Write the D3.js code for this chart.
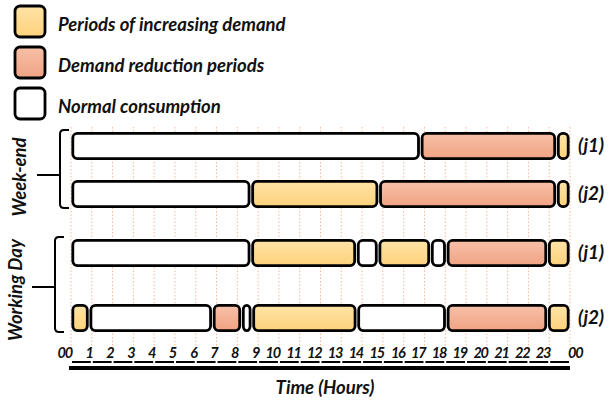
<!DOCTYPE html>
<html>
<head>
<meta charset="utf-8">
<script src="https://cdn.jsdelivr.net/npm/d3@7"></script>
<style>
  body { margin: 0; background: #fff; }
  svg { display: block; }
  text { font-family: Lato, "Open Sans", sans-serif; font-weight: bold; font-style: italic; fill: #111; }
</style>
</head>
<body>
<svg></svg>
<script>
// hour ticks along the time axis
const hours = d3.range(0, 25);
const tickLabels = ["00","1","2","3","4","5","6","7","8","9","10","11","12","13","14","15","16","17","18","19","20","21","22","23","00"];

// rows: group, label, segment boundaries (hours) and the kind of each segment
const rowIds = ["we1", "we2", "wd1", "wd2"];
const rowLabels = ["(j1)", "(j2)", "(j1)", "(j2)"];
const rowGroups = ["Week-end", "Week-end", "Working Day", "Working Day"];
const groups = ["Week-end", "Working Day"];
const rowBreaks = [
  [0, 16.8, 23.35, 24],
  [0, 8.65, 14.8, 23.35, 24],
  [0, 8.65, 13.73, 14.77, 17.29, 18.05, 22.92, 24],
  [0, 0.87, 6.8, 8.2, 8.7, 13.75, 18.05, 22.92, 24]
];
const rowKinds = [
  ["N", "R", "I"],
  ["N", "I", "R", "I"],
  ["N", "I", "N", "I", "N", "R", "I"],
  ["I", "N", "R", "N", "I", "N", "R", "I"]
];

const legendKinds = ["I", "R", "N"];
const legendLabels = ["Periods of increasing demand", "Demand reduction periods", "Normal consumption"];

const W = 612, H = 405;
const svg = d3.select('svg').attr('width', W).attr('height', H);

const defs = svg.append('defs');
const grad = (id, c1, c2) => {
  const g = defs.append('linearGradient').attr('id', id)
    .attr('x1', 0).attr('y1', 0).attr('x2', 0).attr('y2', 1);
  g.append('stop').attr('offset', '0%').attr('stop-color', c1);
  g.append('stop').attr('offset', '100%').attr('stop-color', c2);
};
grad('gI', '#ffe3a6', '#fdd27c');
grad('gR', '#f7c0a8', '#f0a383');
const fillOf = k => k === 'I' ? 'url(#gI)' : k === 'R' ? 'url(#gR)' : '#fff';

const x = d3.scaleLinear().domain([0, 24]).range([71, 570]);
const y = d3.scaleOrdinal().domain(rowIds).range([132, 180, 239, 304]);
const barH = 28;
const sw = 2.8;

// dotted hour guides
svg.append('g').selectAll('line').data(hours).enter().append('line')
  .attr('x1', d => x(d)).attr('x2', d => x(d))
  .attr('y1', 127).attr('y2', 352)
  .attr('stroke', '#f5b998').attr('stroke-width', 1)
  .attr('stroke-dasharray', '1.5,2');

// segments
const rows = svg.append('g');
rowIds.forEach((id, i) => {
  const segs = rowKinds[i].map((k, j) => ({ k, a: rowBreaks[i][j], b: rowBreaks[i][j + 1] }));
  rows.append('g').selectAll('rect').data(segs).enter().append('rect')
    .attr('x', d => x(d.a) + sw / 2 + 0.4)
    .attr('y', y(id) + sw / 2)
    .attr('width', d => x(d.b) - x(d.a) - sw - 0.8)
    .attr('height', barH - sw)
    .attr('rx', 4.5)
    .attr('fill', d => fillOf(d.k))
    .attr('stroke', '#000').attr('stroke-width', sw);
  rows.append('text').text(rowLabels[i])
    .attr('x', 578).attr('y', y(id) + barH / 2 + 6)
    .attr('font-size', 19);
});

// group brackets
groups.forEach((g, gi) => {
  const ids = rowIds.filter((d, i) => rowGroups[i] === g);
  const top = y(ids[0]) - 2;
  const bot = y(ids[ids.length - 1]) + barH;
  const bx = gi === 0 ? 60 : 55;
  const mid = gi === 0 ? 175 : 287;
  const r = 4;
  svg.append('path')
    .attr('d', `M${bx + 9},${top} H${bx + r} Q${bx},${top} ${bx},${top + r} V${bot - r} Q${bx},${bot} ${bx + r},${bot} H${bx + 9}`)
    .attr('fill', 'none').attr('stroke', '#000').attr('stroke-width', 2);
  svg.append('line').attr('x1', bx - 23).attr('x2', bx).attr('y1', mid).attr('y2', mid)
    .attr('stroke', '#000').attr('stroke-width', 2);
  svg.append('text').text(g)
    .attr('transform', `translate(${gi === 0 ? 26 : 22},${gi === 0 ? 177 : 290}) rotate(-90)`)
    .attr('text-anchor', 'middle').attr('font-size', 18.5);
});

// axis labels
svg.append('g').selectAll('text').data(hours).enter().append('text')
  .text(d => tickLabels[d])
  .attr('x', d => d === 24 ? x(d) - 2 : x(d) + 1)
  .attr('y', 358)
  .attr('text-anchor', d => d === 24 ? 'start' : 'end')
  .attr('font-size', 14.5)
  .attr('letter-spacing', -1.2);

// hour underline pieces and thick base line
svg.append('g').selectAll('line').data(hours.slice(0, 24)).enter().append('line')
  .attr('x1', d => x(d) + 1).attr('x2', d => x(d + 1) - 1)
  .attr('y1', 362).attr('y2', 362)
  .attr('stroke', '#000').attr('stroke-width', 2);
svg.append('line').attr('x1', x(0) - 2).attr('x2', x(24)).attr('y1', 368).attr('y2', 368)
  .attr('stroke', '#000').attr('stroke-width', 4);

svg.append('text').text('Time (Hours)')
  .attr('x', 325).attr('y', 394).attr('text-anchor', 'middle').attr('font-size', 18.5);

// legend
const leg = svg.append('g').selectAll('g').data(legendKinds).enter().append('g')
  .attr('transform', (d, i) => `translate(15,${6 + i * 41})`);
leg.append('rect').attr('width', 30).attr('height', 31).attr('rx', 5)
  .attr('fill', d => fillOf(d)).attr('stroke', '#000').attr('stroke-width', 2.8);
leg.append('text').text((d, i) => legendLabels[i])
  .attr('x', 43).attr('y', 24.5).attr('font-size', 18.5);
</script>
</body>
</html>
